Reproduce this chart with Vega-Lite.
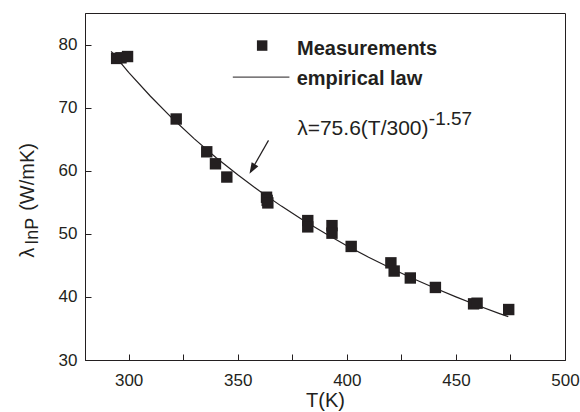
{
  "$schema": "https://vega.github.io/schema/vega-lite/v6.json",
  "width": 480,
  "height": 347,
  "autosize": "none",
  "padding": {"left": 85, "top": 13, "right": 15, "bottom": 52},
  "background": "white",
  "config": {
    "view": {"stroke": "#231f20", "strokeWidth": 1},
    "font": "Liberation Sans",
    "axis": {
      "grid": false,
      "ticks": true,
      "domainColor": "#231f20",
      "tickColor": "#231f20",
      "labelColor": "#231f20",
      "titleColor": "#231f20",
      "labelFont": "Liberation Sans",
      "titleFont": "Liberation Sans",
      "labelFontSize": 17,
      "titleFontSize": 20,
      "titleFontWeight": "normal",
      "domainWidth": 1,
      "tickWidth": 1,
      "tickSize": -6,
      "labelOverlap": false,
      "labelFlush": false
    }
  },
  "datasets": {
    "meas": [
      {"T": 294.5, "lambda": 77.8},
      {"T": 296.5, "lambda": 77.9},
      {"T": 299.5, "lambda": 78.1},
      {"T": 321.8, "lambda": 68.2},
      {"T": 335.8, "lambda": 63.0},
      {"T": 339.8, "lambda": 61.1},
      {"T": 345.0, "lambda": 59.0},
      {"T": 363.2, "lambda": 55.8},
      {"T": 363.5, "lambda": 55.3},
      {"T": 363.8, "lambda": 54.9},
      {"T": 382.1, "lambda": 52.1},
      {"T": 382.1, "lambda": 51.1},
      {"T": 393.2, "lambda": 51.3},
      {"T": 393.2, "lambda": 50.1},
      {"T": 402.0, "lambda": 48.0},
      {"T": 420.2, "lambda": 45.4},
      {"T": 421.7, "lambda": 44.1},
      {"T": 429.1, "lambda": 43.0},
      {"T": 440.6, "lambda": 41.5},
      {"T": 458.1, "lambda": 38.9},
      {"T": 459.7, "lambda": 39.0},
      {"T": 474.2, "lambda": 38.0}
    ],
    "law": [
      {"T": 292, "lambda": 78.9},
      {"T": 300, "lambda": 75.6},
      {"T": 310, "lambda": 71.81},
      {"T": 320, "lambda": 68.31},
      {"T": 330, "lambda": 65.09},
      {"T": 340, "lambda": 62.11},
      {"T": 350, "lambda": 59.35},
      {"T": 360, "lambda": 56.78},
      {"T": 370, "lambda": 54.39},
      {"T": 380, "lambda": 52.16},
      {"T": 390, "lambda": 50.08},
      {"T": 400, "lambda": 48.12},
      {"T": 410, "lambda": 46.29},
      {"T": 420, "lambda": 44.58},
      {"T": 430, "lambda": 42.96},
      {"T": 440, "lambda": 41.44},
      {"T": 450, "lambda": 40.0},
      {"T": 460, "lambda": 38.64},
      {"T": 470, "lambda": 37.36},
      {"T": 474, "lambda": 36.87}
    ]
  },
  "layer": [
    {
      "data": {"name": "law"},
      "mark": {"type": "line", "color": "#231f20", "strokeWidth": 1.2},
      "encoding": {
        "x": {
          "field": "T",
          "type": "quantitative",
          "scale": {"domain": [280, 500], "nice": false, "zero": false},
          "axis": {
            "title": "T(K)",
            "values": [300, 325, 350, 375, 400, 425, 450, 475, 500],
            "labelExpr": "datum.value % 50 === 0 ? datum.label : ''",
            "labelPadding": 18,
            "titlePadding": 2
          }
        },
        "y": {
          "field": "lambda",
          "type": "quantitative",
          "scale": {"domain": [30, 85], "nice": false, "zero": false},
          "axis": {
            "title": null,
            "values": [30, 35, 40, 45, 50, 55, 60, 65, 70, 75, 80],
            "labelExpr": "datum.value % 10 === 0 ? datum.label : ''",
            "labelPadding": 14
          }
        }
      }
    },
    {
      "data": {"name": "meas"},
      "mark": {"type": "point", "shape": "square", "filled": true, "size": 130, "opacity": 1, "color": "#231f20"},
      "encoding": {
        "x": {"field": "T", "type": "quantitative"},
        "y": {"field": "lambda", "type": "quantitative"}
      }
    },
    {
      "data": {"values": [{}]},
      "mark": {"type": "point", "shape": "square", "filled": true, "size": 110, "opacity": 1, "color": "#231f20"},
      "encoding": {"x": {"datum": 361.2}, "y": {"datum": 79.84}}
    },
    {
      "data": {"values": [{}]},
      "mark": {"type": "rule", "color": "#231f20", "strokeWidth": 1},
      "encoding": {"x": {"datum": 347.75}, "x2": {"datum": 373.7}, "y": {"datum": 74.84}}
    },
    {
      "data": {"values": [{}]},
      "mark": {"type": "text", "text": "Measurements", "align": "left", "baseline": "alphabetic", "fontSize": 20, "fontWeight": "bold", "font": "Liberation Sans", "color": "#231f20"},
      "encoding": {"x": {"datum": 377.2}, "y": {"datum": 78.41}}
    },
    {
      "data": {"values": [{}]},
      "mark": {"type": "text", "text": "empirical law", "align": "left", "baseline": "alphabetic", "fontSize": 20, "fontWeight": "bold", "font": "Liberation Sans", "color": "#231f20"},
      "encoding": {"x": {"datum": 377.0}, "y": {"datum": 73.57}}
    },
    {
      "data": {"values": [{}]},
      "mark": {"type": "text", "text": "λ=75.6(T/300)", "align": "left", "baseline": "alphabetic", "fontSize": 21, "font": "Liberation Sans", "color": "#231f20"},
      "encoding": {"x": {"datum": 377.25}, "y": {"datum": 65.63}}
    },
    {
      "data": {"values": [{}]},
      "mark": {"type": "text", "text": "-1.57", "align": "left", "baseline": "alphabetic", "fontSize": 19, "font": "Liberation Sans", "color": "#231f20"},
      "encoding": {"x": {"datum": 437.6}, "y": {"datum": 67.3}}
    },
    {
      "data": {"values": [{}]},
      "mark": {"type": "rule", "color": "#231f20", "strokeWidth": 1.2},
      "encoding": {"x": {"datum": 364.1}, "y": {"datum": 64.81}, "x2": {"datum": 356.0}, "y2": {"datum": 59.9}}
    },
    {
      "data": {"values": [{}]},
      "mark": {"type": "point", "shape": "M0,0L0.35,1L-0.35,1Z", "angle": 210, "filled": true, "size": 484, "opacity": 1, "color": "#231f20"},
      "encoding": {"x": {"datum": 355.4}, "y": {"datum": 59.52}}
    },
    {
      "data": {"values": [{}]},
      "mark": {"type": "text", "text": "λ", "angle": 270, "align": "left", "baseline": "alphabetic", "fontSize": 20, "font": "Liberation Sans", "color": "#231f20"},
      "encoding": {"x": {"datum": 256.6}, "y": {"datum": 46.19}}
    },
    {
      "data": {"values": [{}]},
      "mark": {"type": "text", "text": "InP", "angle": 270, "align": "left", "baseline": "alphabetic", "fontSize": 18, "font": "Liberation Sans", "color": "#231f20"},
      "encoding": {"x": {"datum": 258.6}, "y": {"datum": 48.25}}
    },
    {
      "data": {"values": [{}]},
      "mark": {"type": "text", "text": "(W/mK)", "angle": 270, "align": "left", "baseline": "alphabetic", "fontSize": 20, "font": "Liberation Sans", "color": "#231f20"},
      "encoding": {"x": {"datum": 256.6}, "y": {"datum": 53.65}}
    }
  ]
}
